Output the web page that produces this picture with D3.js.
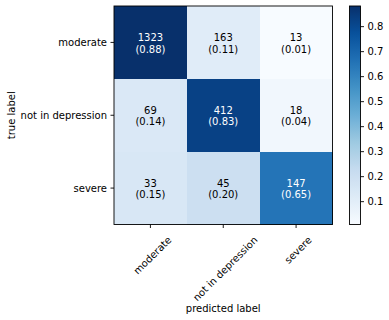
<!DOCTYPE html>
<html>
<head>
<meta charset="utf-8">
<script src="https://cdn.jsdelivr.net/npm/d3@7"></script>
<style>
html,body{margin:0;padding:0;background:#fff;}
svg{display:block;}
text{font-family:"DejaVu Sans",sans-serif;font-size:10px;fill:#000;}
</style>
</head>
<body>
<svg id="chart" width="389" height="320"></svg>
<script>
const trueLabels = ["moderate", "not in depression", "severe"];
const predLabels = ["moderate", "not in depression", "severe"];
const countsModerate = [1323, 163, 13];
const countsNotInDepression = [69, 412, 18];
const countsSevere = [33, 45, 147];
const colorbarTicks = [0.1, 0.2, 0.3, 0.4, 0.5, 0.6, 0.7, 0.8];
const bluesStops = ["#f7fbff","#deebf7","#c6dbef","#9ecae1","#6baed6","#4292c6","#2171b5","#08519c","#08306b"];

const counts = [countsModerate, countsNotInDepression, countsSevere];
const cells = [];
counts.forEach((row, i) => {
  const s = d3.sum(row);
  row.forEach((c, j) => cells.push({i, j, count: c, rate: c / s}));
});

const svg = d3.select("#chart");
const plot = {x0: 114, x1: 332.5, y0: 6, y1: 224.5};
const x = d3.scaleBand().domain(predLabels).range([plot.x0, plot.x1]);
const y = d3.scaleBand().domain(trueLabels).range([plot.y0, plot.y1]);

const vmin = d3.min(cells, d => d.rate), vmax = d3.max(cells, d => d.rate);
const cmapBase = d3.scaleLinear()
  .domain(d3.range(bluesStops.length).map(k => k / (bluesStops.length - 1)))
  .range(bluesStops).interpolate(d3.interpolateRgb).clamp(true);
const norm = d3.scaleLinear().domain([vmin, vmax]).range([0, 1]);
const color = v => cmapBase(norm(v));

// cells
svg.append("g").selectAll("rect").data(cells).join("rect")
  .attr("x", d => x(predLabels[d.j]))
  .attr("y", d => y(trueLabels[d.i]))
  .attr("width", x.bandwidth() + 0.3)
  .attr("height", y.bandwidth() + 0.3)
  .attr("fill", d => color(d.rate))
  .attr("shape-rendering", "crispEdges");

const thresh = vmax / 2;
const labels = svg.append("g").selectAll("text").data(cells).join("text")
  .attr("text-anchor", "middle")
  .style("fill", d => d.rate > thresh ? "#fff" : "#000");
labels.each(function(d){
  const cx = x(predLabels[d.j]) + x.bandwidth() / 2;
  const cy = y(trueLabels[d.i]) + y.bandwidth() / 2;
  const t = d3.select(this);
  t.append("tspan").attr("x", cx).attr("y", cy - 1.5).text(d.count);
  t.append("tspan").attr("x", cx).attr("y", cy + 10.2).text("(" + d.rate.toFixed(2) + ")");
});

// frame
svg.append("rect").attr("x", plot.x0).attr("y", plot.y0)
  .attr("width", plot.x1 - plot.x0).attr("height", plot.y1 - plot.y0)
  .attr("fill", "none").attr("stroke", "#000").attr("stroke-width", 0.9);

// y axis
const yg = svg.append("g");
trueLabels.forEach(l => {
  const cy = y(l) + y.bandwidth() / 2;
  yg.append("line").attr("x1", plot.x0 - 3.5).attr("x2", plot.x0).attr("y1", cy).attr("y2", cy)
    .attr("stroke", "#000").attr("stroke-width", 0.9);
  yg.append("text").attr("x", plot.x0 - 7).attr("y", cy).attr("dy", "0.35em")
    .attr("text-anchor", "end").text(l);
});

// x axis
const xg = svg.append("g");
predLabels.forEach(l => {
  const cx = x(l) + x.bandwidth() / 2;
  xg.append("line").attr("x1", cx).attr("x2", cx).attr("y1", plot.y1).attr("y2", plot.y1 + 3.5)
    .attr("stroke", "#000").attr("stroke-width", 0.9);
  const t = xg.append("text").attr("text-anchor", "middle").text(l);
  const L = t.node().getComputedTextLength();
  const h = 11.6;
  const bb = (L + h) * Math.SQRT1_2;
  const top = plot.y1 + 9.5;
  t.attr("transform", `translate(${cx + 2},${top + bb / 2}) rotate(-45)`)
   .attr("dy", "0.35em");
});

svg.append("text").attr("x", (plot.x0 + plot.x1) / 2).attr("y", 312)
  .attr("text-anchor", "middle").text("predicted label");
svg.append("text").attr("transform", `translate(15,${(plot.y0 + plot.y1) / 2}) rotate(-90)`)
  .attr("text-anchor", "middle").text("true label");

// colorbar
const cb = {x0: 349.5, x1: 360.5, y0: plot.y0, y1: plot.y1};
const cy = d3.scaleLinear().domain([vmin, vmax]).range([cb.y1, cb.y0]);
const grad = svg.append("defs").append("linearGradient").attr("id", "cbgrad")
  .attr("x1", 0).attr("y1", 1).attr("x2", 0).attr("y2", 0);
d3.range(0, 1.0001, 0.02).forEach(f => {
  grad.append("stop").attr("offset", f).attr("stop-color", cmapBase(f));
});
svg.append("rect").attr("x", cb.x0).attr("y", cb.y0).attr("width", cb.x1 - cb.x0)
  .attr("height", cb.y1 - cb.y0).attr("fill", "url(#cbgrad)");
svg.append("rect").attr("x", cb.x0).attr("y", cb.y0).attr("width", cb.x1 - cb.x0)
  .attr("height", cb.y1 - cb.y0).attr("fill", "none").attr("stroke", "#000").attr("stroke-width", 0.9);
const cbg = svg.append("g");
colorbarTicks.forEach(v => {
  const ty = cy(v);
  cbg.append("line").attr("x1", cb.x1).attr("x2", cb.x1 + 3.5).attr("y1", ty).attr("y2", ty)
    .attr("stroke", "#000").attr("stroke-width", 0.9);
  cbg.append("text").attr("x", cb.x1 + 7).attr("y", ty).attr("dy", "0.35em").text(d3.format(".1f")(v));
});
</script>
</body>
</html>
